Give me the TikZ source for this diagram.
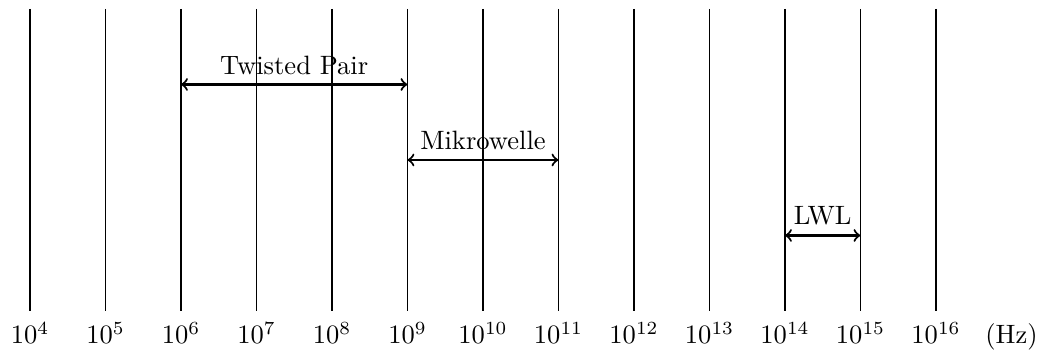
\documentclass[tikz,border=0pt]{standalone}
\usetikzlibrary{arrows}
\tikzset{
  gridline/.style={line width=0.4pt},
  band/.style={thick,<->},
  freq/.style={anchor=base},
}
\begin{document}
\begin{tikzpicture}
\useasboundingbox (-0.397,-0.530) rectangle (13.378,4.119);
% frequency grid lines and decade labels
\foreach \i in {0,...,12}{
  \pgfmathtruncatemacro{\e}{\i+4}
  \coordinate (top\i) at (\i,4);
  \coordinate (bot\i) at (\i,0);
  \draw[gridline] (top\i) -- (bot\i);
  \node[freq] (lab\i) at (\i,-0.437) {$10^{\e}$};
}
\node[freq] (unit) at (13,-0.437) {(Hz)};
% transmission media bands
\coordinate (tpL) at (2,3);
\coordinate (tpR) at (5,3);
\draw[band] (tpL) -- node[above] (tp) {Twisted Pair} (tpR);
\coordinate (mwL) at (5,2);
\coordinate (mwR) at (7,2);
\draw[band] (mwL) -- node[above] (mw) {Mikrowelle} (mwR);
\coordinate (lwlL) at (10,1);
\coordinate (lwlR) at (11,1);
\draw[band] (lwlL) -- node[above] (lwl) {LWL} (lwlR);
\end{tikzpicture}
\end{document}
